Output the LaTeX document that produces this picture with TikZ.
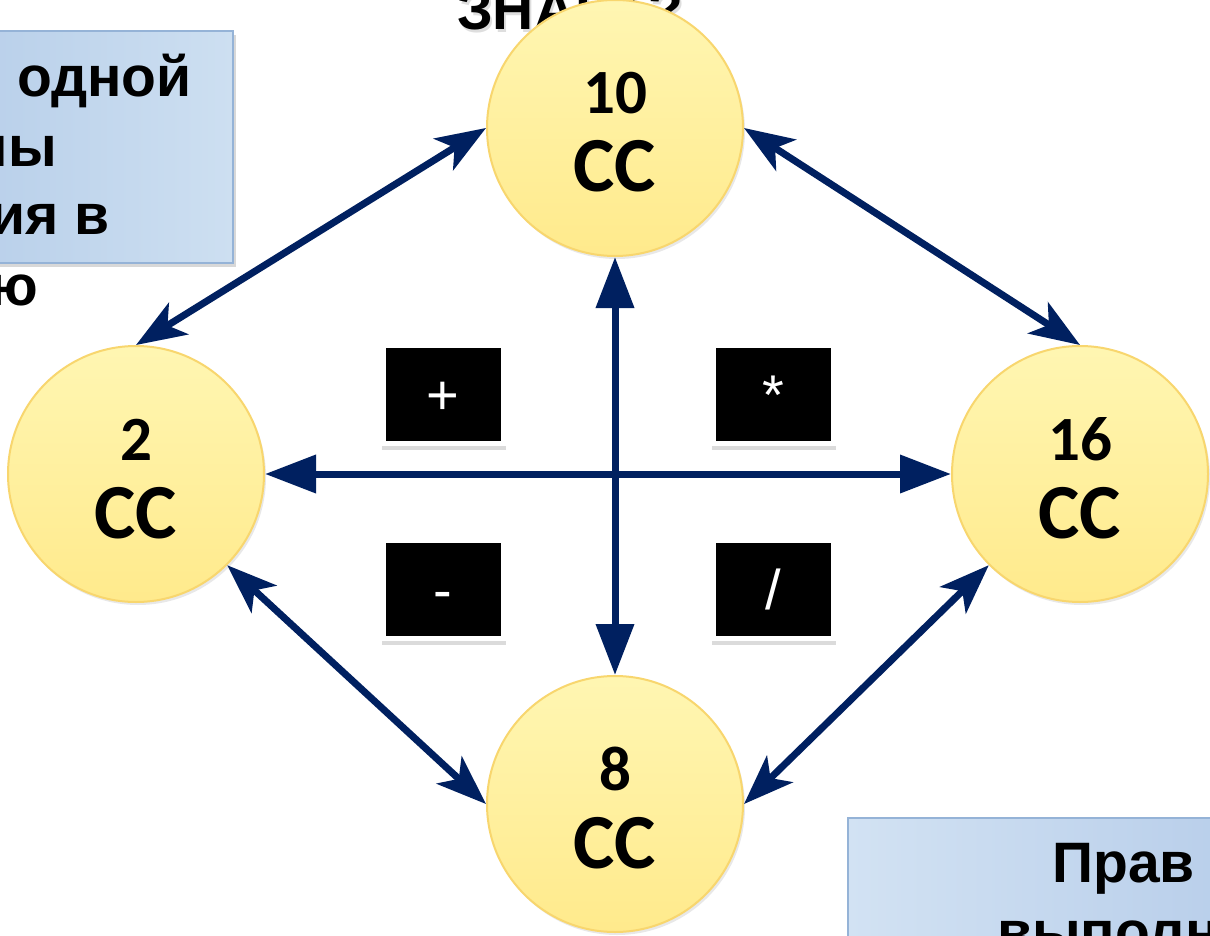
\documentclass[tikz,border=0pt]{standalone}
\usepackage{fontspec}
\newfontfamily\arialf{Liberation Sans}
\newfontfamily\calibrif{Carlito}
\usetikzlibrary{arrows.meta,shadows,calc}
\definecolor{navy}{RGB}{0,32,96}
\definecolor{circL}{RGB}{255,246,178}
\definecolor{circR}{RGB}{255,234,140}
\definecolor{circB}{RGB}{248,214,110}
\definecolor{boxB}{RGB}{149,179,215}
\tikzset{
  circ/.style={circle, minimum size=256pt, inner sep=0pt, draw=circB, line width=2pt,
    left color=circL, right color=circR, shading angle=0,
    drop shadow={opacity=0.18, shadow xshift=2pt, shadow yshift=-3pt}},
  numtxt/.style={anchor=base, inner sep=0pt, font=\calibrif\bfseries\fontsize{63}{63}\selectfont},
  cctxt/.style={anchor=base, inner sep=0pt, font=\calibrif\bfseries\fontsize{78}{78}\selectfont},
  opbox/.style={rectangle, fill=black, draw=white, line width=5pt, minimum width=120pt,
    minimum height=98pt, inner sep=0pt, text height=40pt, text depth=0pt,
    drop shadow={opacity=0.28, shadow xshift=1pt, shadow yshift=-5pt, shadow scale=1.03},
    text=white, font=\arialf\fontsize{56}{60}\selectfont},
  tri/.style={line width=7pt, draw=navy,
    {Triangle[length=51pt,width=37pt]}-{Triangle[length=51pt,width=37pt]}},
  stl/.style={line width=7pt, draw=navy,
    {Stealth[length=50pt,width=37pt,inset=13pt]}-{Stealth[length=50pt,width=37pt,inset=13pt]}},
  bluebox/.style={draw=boxB, line width=1.5pt,
    drop shadow={opacity=0.3, shadow xshift=3pt, shadow yshift=-4pt}},
  bigtxt/.style={inner sep=0pt, font=\arialf\bfseries\fontsize{57}{69}\selectfont, text=black}
}
\begin{document}
\begin{tikzpicture}[x=1pt,y=-1pt]
\useasboundingbox (0,0) rectangle (1210,936);
\fill[white] (0,0) rectangle (1210,936);

% title text partly hidden
\node[bigtxt, anchor=base west, text=black!25, opacity=0.5] (titlesh) at (459,33) {ЗНАЕТ?};
\node[bigtxt, anchor=base west] (title) at (457,30) {ЗНАЕТ?};

% left blue box
\path[bluebox, left color={rgb,255:red,185;green,208;blue,234}, right color={rgb,255:red,205;green,223;blue,241}]
  (-20,31) rectangle (233,263);
\node[bigtxt, anchor=base east] (l1) at (192,97) {одной};
\node[bigtxt, anchor=base east] (l2) at (57,167) {ны};
\node[bigtxt, anchor=base east] (l3) at (110,235) {ия в};
\node[bigtxt, anchor=base east] (l4) at (38,305) {ю};

% bottom right blue box
\path[bluebox, left color={rgb,255:red,210;green,226;blue,243}, right color={rgb,255:red,184;green,206;blue,234}]
  (848,818) rectangle (1240,960);
\node[bigtxt, anchor=base west] (r1) at (1052,882) {Прав};
\node[bigtxt, anchor=base west] (r2) at (997,951) {выполн};

% circles
\node[circ] (c10) at (615,128) {};
\node[circ] (c2) at (136,474) {};
\node[circ] (c16) at (1080,474) {};
\node[circ] (c8) at (615,804) {};
\node[numtxt] (n10) at ($(c10.center)+(0,-14)$) {10};
\node[cctxt] (cc10) at ($(c10.center)+(0,64)$) {CC};
\node[numtxt] (n2) at ($(c2.center)+(0,-14)$) {2};
\node[cctxt] (cc2) at ($(c2.center)+(0,64)$) {CC};
\node[numtxt] (n16) at ($(c16.center)+(0,-14)$) {16};
\node[cctxt] (cc16) at ($(c16.center)+(0,64)$) {CC};
\node[numtxt] (n8) at ($(c8.center)+(0,-14)$) {8};
\node[cctxt] (cc8) at ($(c8.center)+(0,64)$) {CC};

% connectors
\draw[tri] (c10.south) -- (c8.north);
\draw[tri] (c2.east) -- (c16.west);
\draw[stl] (c10.west) -- (c2.north);
\draw[stl] (c10.east) -- (c16.north);
\draw[stl] (c2.south east) -- (c8.west);
\draw[stl] (c16.south west) -- (c8.east);

% operator boxes
\node[opbox] (plus) at (443,394) {+};
\node[opbox] (mult) at (773,394) {*};
\node[opbox] (minus) at (443,589) {-};
\node[opbox] (divi) at (773,589) {/};
\end{tikzpicture}
\end{document}
